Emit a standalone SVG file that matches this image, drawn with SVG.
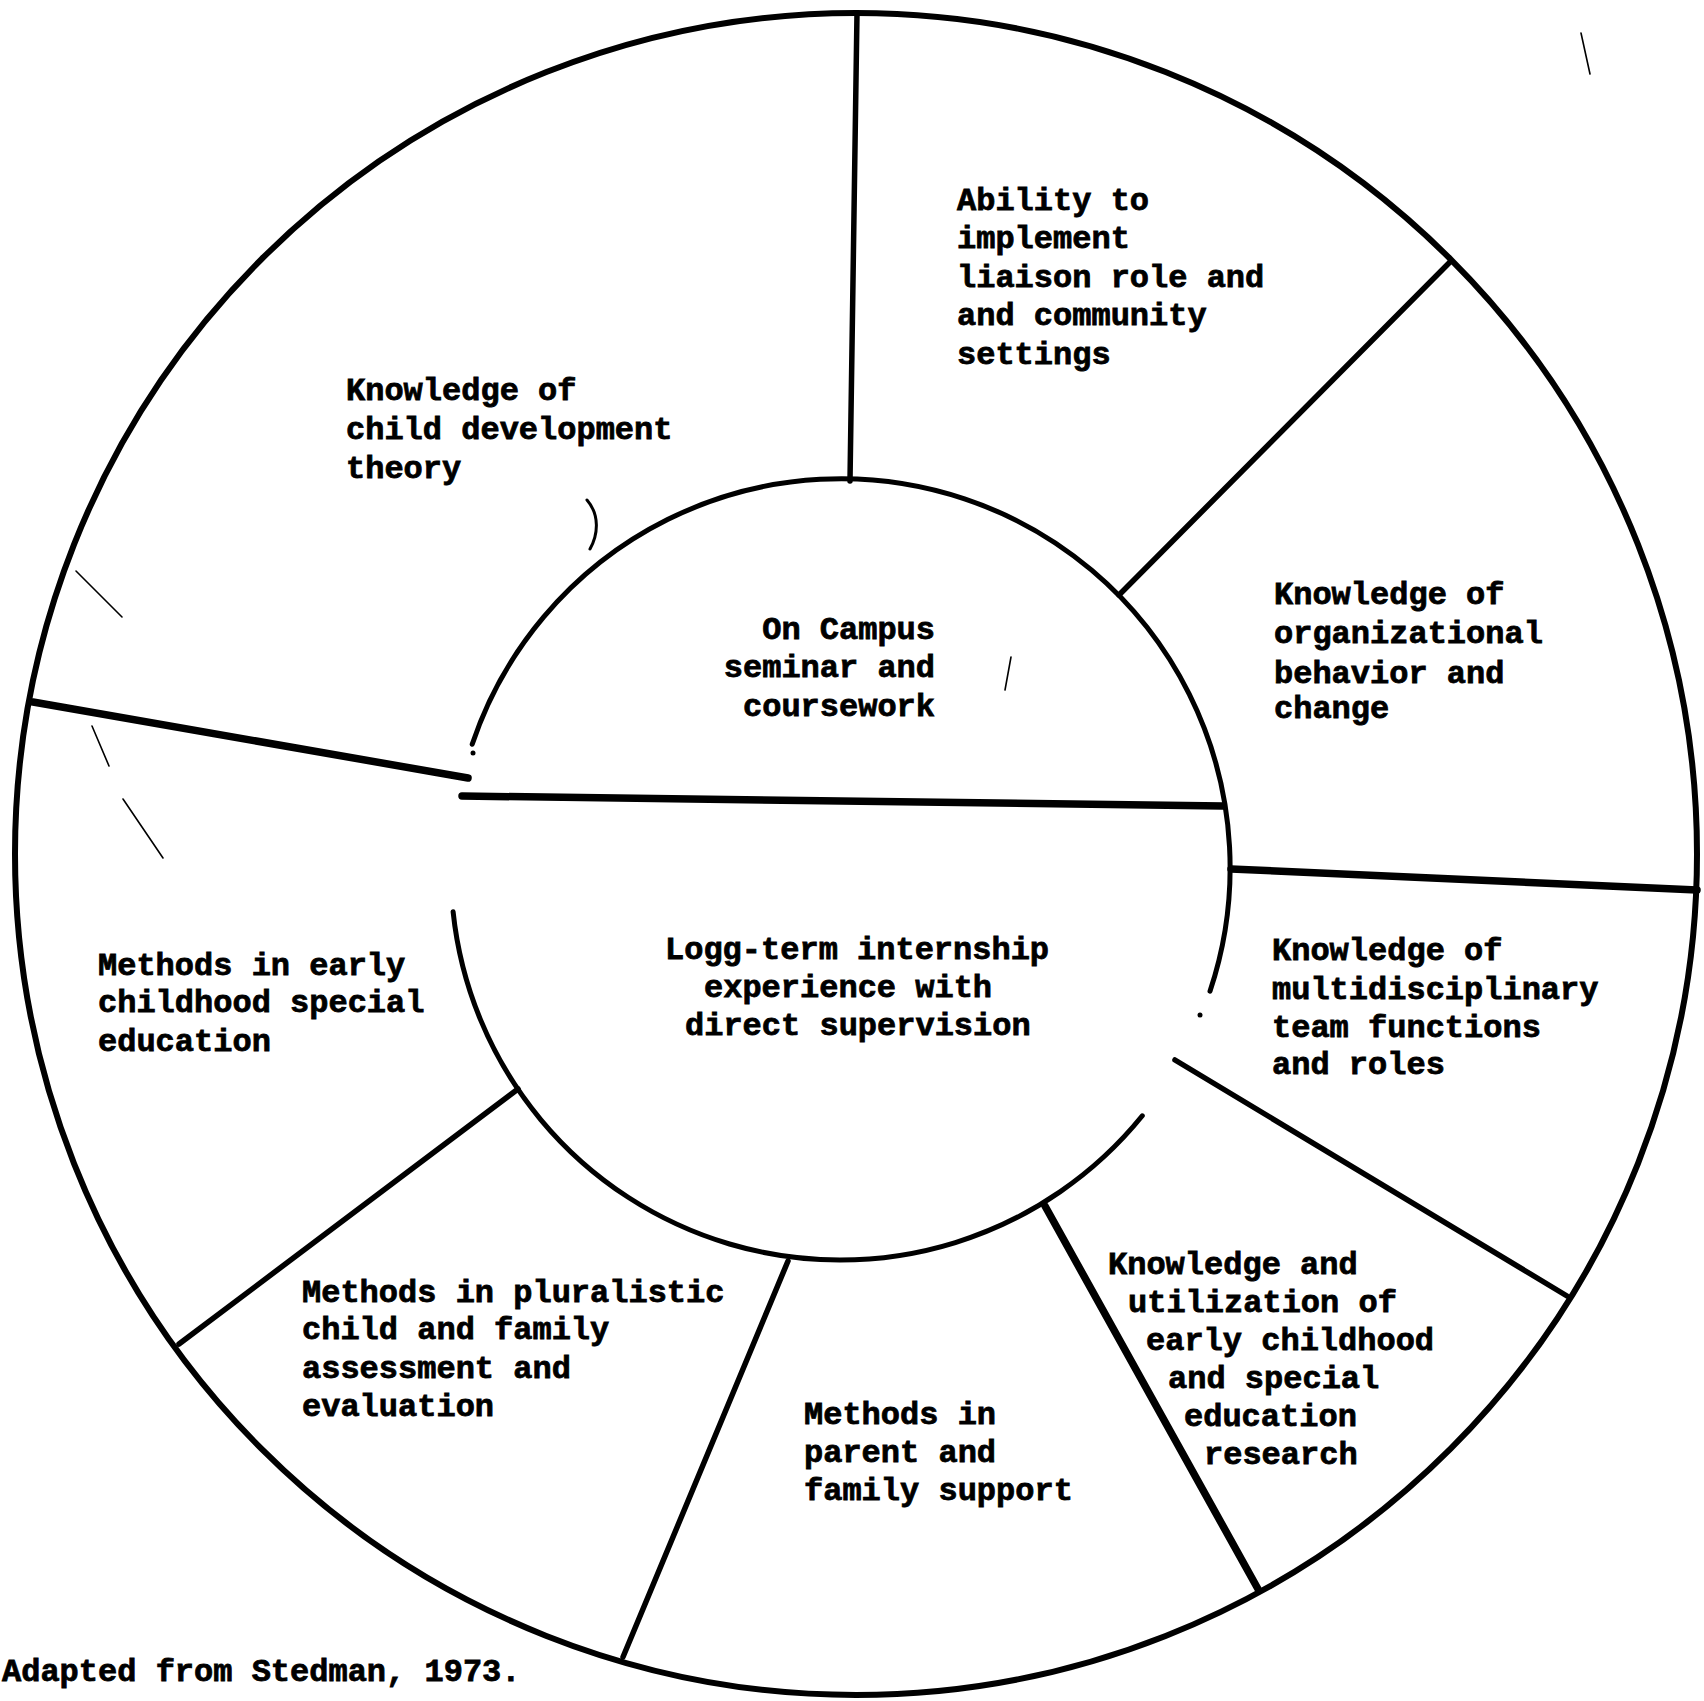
<svg xmlns="http://www.w3.org/2000/svg" width="1704" height="1701" viewBox="0 0 1704 1701">
<style>
  .ring { fill: none; stroke: #000; stroke-width: 6; stroke-linecap: round; }
  .inner { fill: none; stroke: #000; stroke-width: 5; stroke-linecap: round; }
  .spoke { stroke: #000; stroke-width: 5.5; stroke-linecap: round; fill: none; }
  .thick { stroke-width: 7.5; }
  .mark { stroke: #000; stroke-width: 1.6; fill: none; stroke-linecap: round; }
  text { font-family: "Liberation Mono", "Courier New", monospace; font-weight: bold; font-size: 32px; fill: #000; stroke: #000; stroke-width: 0.8; }
</style>
<rect width="1704" height="1701" fill="#fff"/>

<g id="outer-circle">
  <circle class="ring" cx="856" cy="854" r="841"/>
</g>
<g id="inner-circle">
  <path class="inner" d="M472.2,744.3 A389,389 0 0 1 1210.0,991.2"/>
  <path class="inner" d="M1142.3,1115.8 A389,389 0 0 1 453.1,911.7"/>
  <circle cx="473" cy="753" r="2.5" fill="#000"/>
  <circle cx="1200" cy="1015" r="2.5" fill="#000"/>
</g>

<g id="connectors">
  <line class="spoke" x1="857" y1="13" x2="850" y2="481"/>
  <line class="spoke" x1="1451" y1="261" x2="1119" y2="595"/>
  <line class="spoke thick" x1="1231" y1="869" x2="1697" y2="890"/>
  <line class="spoke" x1="1175" y1="1060" x2="1567" y2="1296"/>
  <line class="spoke thick" x1="1045" y1="1206" x2="1258" y2="1589"/>
  <line class="spoke" x1="788" y1="1261" x2="623" y2="1657"/>
  <line class="spoke" x1="518" y1="1089" x2="179" y2="1344"/>
  <line class="spoke thick" x1="33" y1="702" x2="468" y2="778"/>
  <line class="spoke thick" x1="462" y1="796" x2="1223" y2="806"/>
</g>

<g id="scan-marks">
  <line class="mark" x1="76" y1="571" x2="122" y2="617"/>
  <line class="mark" x1="92" y1="726" x2="109" y2="766"/>
  <line class="mark" x1="123" y1="799" x2="163" y2="858"/>
  <path class="mark" style="stroke-width:3" d="M587,500 C600,515 598,535 590,549"/>
  <line class="mark" x1="1581" y1="33" x2="1590" y2="74"/>
  <line class="mark" x1="1011" y1="657" x2="1005" y2="690"/>
</g>

<g id="node-child-development">
  <text x="346" y="400">Knowledge of</text>
  <text x="346" y="439">child development</text>
  <text x="346" y="478">theory</text>
</g>
<g id="node-liaison">
  <text x="957" y="210">Ability to</text>
  <text x="957" y="248">implement</text>
  <text x="957" y="287">liaison role and</text>
  <text x="957" y="325">and community</text>
  <text x="957" y="364">settings</text>
</g>
<g id="node-organizational">
  <text x="1274" y="604">Knowledge of</text>
  <text x="1274" y="643">organizational</text>
  <text x="1274" y="683">behavior and</text>
  <text x="1274" y="718">change</text>
</g>
<g id="node-multidisciplinary">
  <text x="1272" y="960">Knowledge of</text>
  <text x="1272" y="999">multidisciplinary</text>
  <text x="1272" y="1037">team functions</text>
  <text x="1272" y="1074">and roles</text>
</g>
<g id="node-ecse-methods">
  <text x="98" y="975">Methods in early</text>
  <text x="98" y="1012">childhood special</text>
  <text x="98" y="1051">education</text>
</g>
<g id="node-on-campus">
  <text x="935" y="639" text-anchor="end">On Campus</text>
  <text x="935" y="677" text-anchor="end">seminar and</text>
  <text x="935" y="716" text-anchor="end">coursework</text>
</g>
<g id="node-internship">
  <text x="665" y="959">Logg-term internship</text>
  <text x="704" y="997">experience with</text>
  <text x="685" y="1035">direct supervision</text>
</g>
<g id="node-assessment">
  <text x="302" y="1302">Methods in pluralistic</text>
  <text x="302" y="1339">child and family</text>
  <text x="302" y="1378">assessment and</text>
  <text x="302" y="1416">evaluation</text>
</g>
<g id="node-parent-support">
  <text x="804" y="1424">Methods in</text>
  <text x="804" y="1462">parent and</text>
  <text x="804" y="1500">family support</text>
</g>
<g id="node-research">
  <text x="1108" y="1274">Knowledge and</text>
  <text x="1128" y="1312">utilization of</text>
  <text x="1146" y="1350">early childhood</text>
  <text x="1168" y="1388">and special</text>
  <text x="1184" y="1426">education</text>
  <text x="1204" y="1464">research</text>
</g>
<g id="caption">
  <text x="2" y="1681">Adapted from Stedman, 1973.</text>
</g>
</svg>
